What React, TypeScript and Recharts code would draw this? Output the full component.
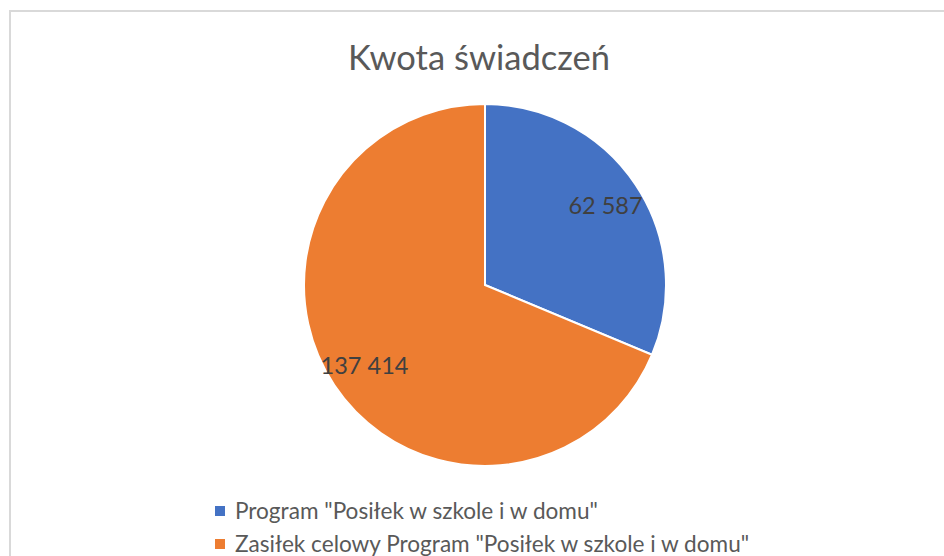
import { Cell, Legend, Pie, PieChart } from "recharts";

const chartTitle = "Kwota świadczeń";
const categories = [
  'Program "Posiłek w szkole i w domu"',
  'Zasiłek celowy Program "Posiłek w szkole i w domu"',
];
const amounts = [62587, 137414];
const sliceColors = ["#4472C4", "#ED7D31"];

const data = categories.map((name, i) => ({ name, value: amounts[i] }));

const FONT = "Lato, 'Open Sans', sans-serif";
const RADIAN = Math.PI / 180;

// thousands with a plain space, as in the Polish workbook
const fmt = (v: number) => String(v).replace(/\B(?=(\d{3})+(?!\d))/g, " ");

function SliceLabel(props: any) {
  const { cx, cy, midAngle, outerRadius, value } = props;
  const r = outerRadius * 0.8;
  const x = cx + r * Math.cos(-midAngle * RADIAN);
  const y = cy + r * Math.sin(-midAngle * RADIAN);
  return (
    <text
      x={x}
      y={y}
      textAnchor="middle"
      dominantBaseline="central"
      fill="#404040"
      fontSize={23.5}
      fontFamily={FONT}
    >
      {fmt(value)}
    </text>
  );
}

function LegendRows() {
  return (
    <div style={{ fontFamily: FONT, fontSize: 22.6, color: "#595959" }}>
      {data.map((d, i) => (
        <div key={d.name} style={{ display: "flex", alignItems: "center", height: 33 }}>
          <span
            style={{
              width: 10,
              height: 10,
              background: sliceColors[i],
              marginRight: 10,
              display: "inline-block",
            }}
          />
          <span>{d.name}</span>
        </div>
      ))}
    </div>
  );
}

export default function App() {
  return (
    <div
      style={{
        position: "absolute",
        left: 0,
        top: 0,
        width: 944,
        height: 556,
        overflow: "hidden",
        background: "#fff",
      }}
    >
      <div
        style={{
          position: "absolute",
          left: 9,
          top: 10,
          width: 1000,
          height: 700,
          border: "2px solid #d9d9d9",
        }}
      />
      <div
        style={{
          position: "absolute",
          left: 0,
          top: 36,
          width: 958,
          textAlign: "center",
          fontFamily: FONT,
          fontSize: 34.5,
          color: "#595959",
        }}
      >
        {chartTitle}
      </div>
      <div style={{ position: "absolute", left: 0, top: 0 }}>
        <PieChart width={944} height={556} margin={{ top: 0, right: 0, bottom: 0, left: 0 }}>
          <Pie
            data={data}
            dataKey="value"
            nameKey="name"
            cx={485}
            cy={285}
            outerRadius={181}
            startAngle={90}
            endAngle={-270}
            stroke="#fff"
            strokeWidth={2}
            label={SliceLabel}
            labelLine={false}
            isAnimationActive={false}
          >
            {data.map((d, i) => (
              <Cell key={d.name} fill={sliceColors[i]} />
            ))}
          </Pie>
          <Legend
            content={() => <LegendRows />}
            wrapperStyle={{ position: "absolute", left: 215, top: 494, width: 720 }}
          />
        </PieChart>
      </div>
    </div>
  );
}
